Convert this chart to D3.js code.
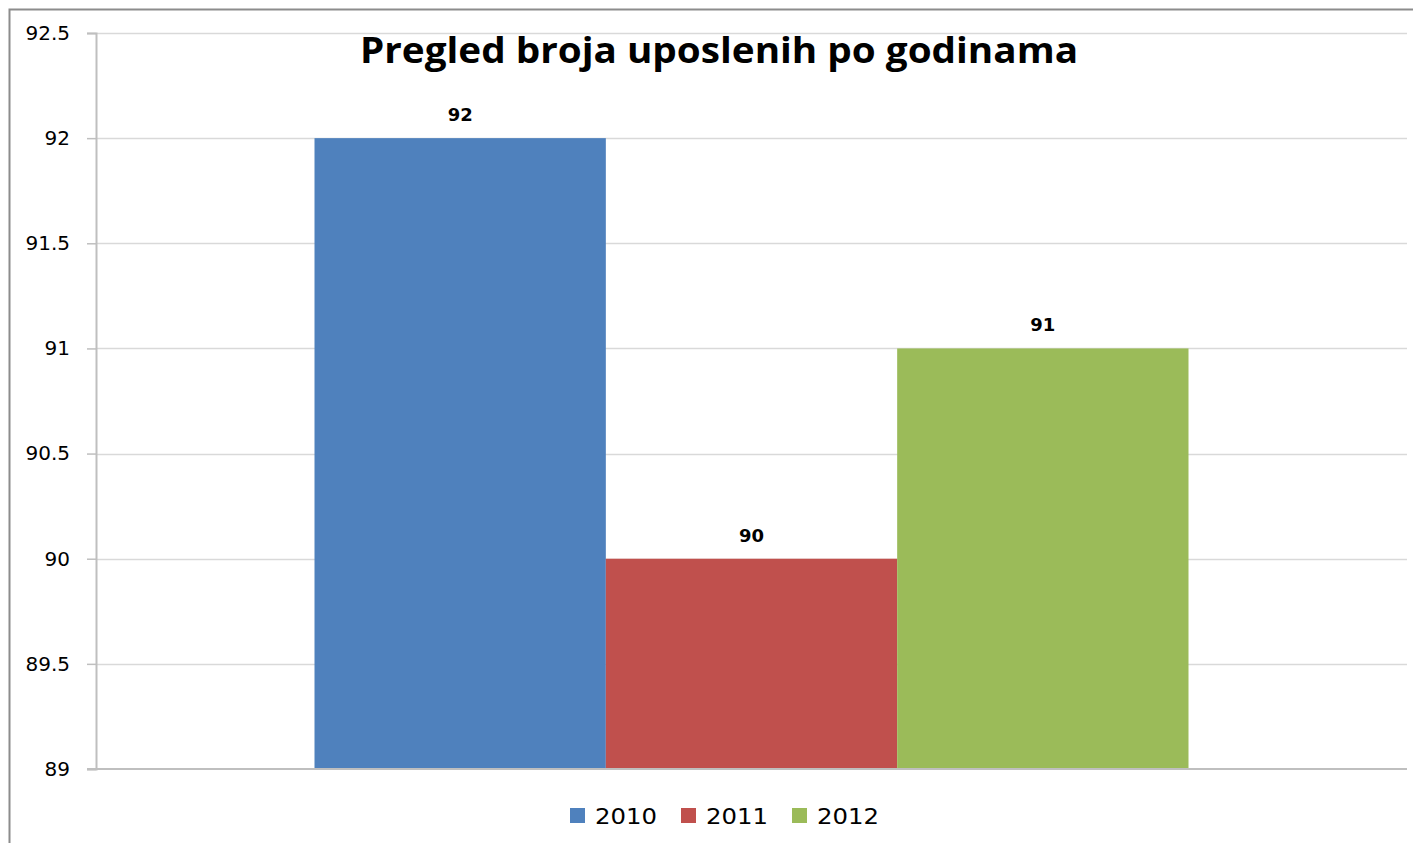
<!DOCTYPE html>
<html><head><meta charset="utf-8">
<script src="https://cdn.jsdelivr.net/npm/d3@7"></script>
<style>html,body{margin:0;padding:0;background:#fff;overflow:hidden}</style>
</head><body>
<svg id="c" width="1413" height="843"></svg>
<script>
const categories = ["Broj uposlenih"];
const seriesNames = ["2010", "2011", "2012"];
const seriesValues = [92, 90, 91];
const seriesColors = ["#4f81bd", "#c0504d", "#9bbb59"];
const yTicks = [89, 89.5, 90, 90.5, 91, 91.5, 92, 92.5];
const titleText = "Pregled broja uposlenih po godinama";

(function () {
const svg = d3.select("#c");
const mLeft = 96, mRight = 1407, mTop = 33, mBottom = 769;

// outer frame
svg.append("path").attr("d", "M9.5,843 V9.5 H1413")
  .attr("fill", "none").attr("stroke", "#8c8c8c").attr("stroke-width", 2);

const y = d3.scaleLinear().domain([89, 92.5]).range([mBottom, mTop]);
const x0 = d3.scaleBand().domain(categories).range([mLeft, mRight]).paddingOuter(0.25).paddingInner(0);
const x1 = d3.scaleBand().domain(seriesNames).range([0, x0.bandwidth()]);

// gridlines
svg.append("g").selectAll("line").data(yTicks.filter(t => t !== 89)).join("line")
  .attr("x1", mLeft).attr("x2", mRight)
  .attr("y1", d => Math.round(y(d)) + 0.5).attr("y2", d => Math.round(y(d)) + 0.5)
  .attr("stroke", "#d9d9d9").attr("stroke-width", 1.5);

// y axis
const yAxis = d3.axisLeft(y).tickValues(yTicks).tickSize(9).tickPadding(17)
  .tickFormat(d3.format("~g"));
const ga = svg.append("g").attr("transform", `translate(${mLeft},0)`).call(yAxis);
ga.select(".domain").attr("stroke", "#bfbfbf").attr("stroke-width", 2);
ga.selectAll(".tick line").attr("stroke", "#bfbfbf").attr("stroke-width", 1.5);
ga.selectAll(".tick text").attr("font-family", "DejaVu Sans").attr("font-size", 20).attr("fill", "#000");

// bars
const g = svg.append("g").attr("transform", `translate(${x0(categories[0])},0)`);
g.selectAll("rect").data(seriesValues).join("rect")
  .attr("x", (d, i) => x1(seriesNames[i]))
  .attr("width", x1.bandwidth())
  .attr("y", d => y(d)).attr("height", d => y(89) - y(d))
  .attr("fill", (d, i) => seriesColors[i]);

// x axis baseline
svg.append("line").attr("x1", mLeft - 9).attr("x2", mRight).attr("y1", mBottom).attr("y2", mBottom)
  .attr("stroke", "#bfbfbf").attr("stroke-width", 2);

// data labels
g.selectAll("text.lbl").data(seriesValues).join("text").attr("class", "lbl")
  .attr("x", (d, i) => x1(seriesNames[i]) + x1.bandwidth() / 2)
  .attr("y", d => y(d) - 17)
  .attr("text-anchor", "middle").attr("font-family", "DejaVu Sans").attr("font-weight", "bold")
  .attr("font-size", 18).attr("fill", "#000").text(d => d);

// title
svg.append("text").attr("x", 719).attr("y", 63).attr("text-anchor", "middle")
  .attr("font-family", "Open Sans").attr("font-weight", "bold").attr("font-size", 36)
  .attr("textLength", 718).attr("lengthAdjust", "spacingAndGlyphs")
  .attr("fill", "#000").text(titleText);

// legend
const lg = svg.append("g");
const legendX = [570, 681, 792];
seriesNames.forEach((s, i) => {
  lg.append("rect").attr("x", legendX[i]).attr("y", 808).attr("width", 15).attr("height", 15).attr("fill", seriesColors[i]);
  lg.append("text").attr("x", legendX[i] + 25).attr("y", 824).attr("font-family", "DejaVu Sans")
    .attr("font-size", 22).attr("textLength", 62).attr("lengthAdjust", "spacingAndGlyphs")
    .attr("fill", "#000").text(s);
});
})();
</script>
</body></html>
